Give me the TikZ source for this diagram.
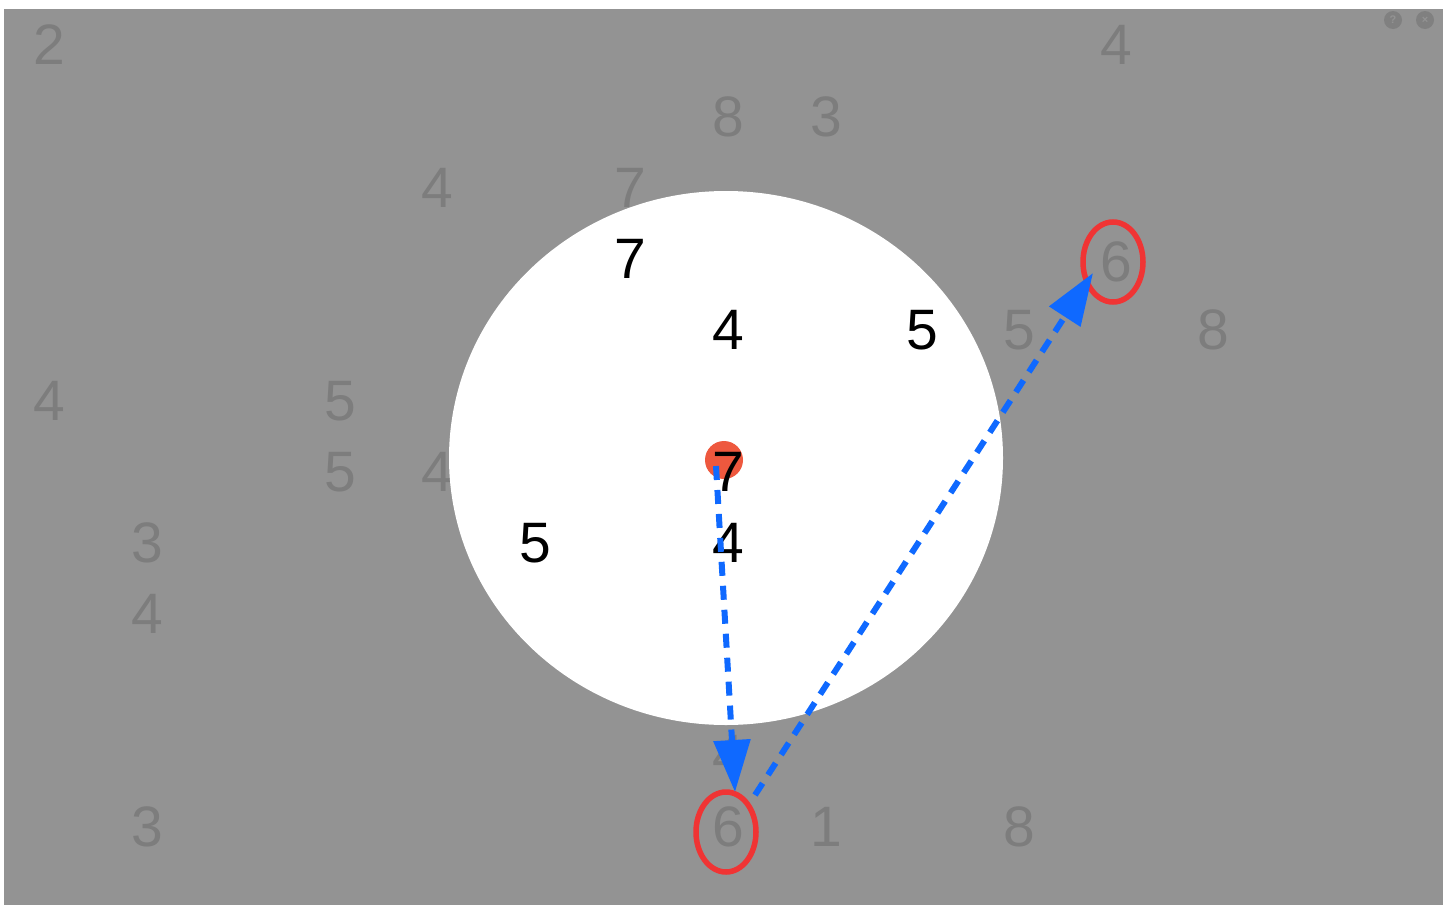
\documentclass[tikz,border=0pt]{standalone}
\usepackage{fontspec}
\setmainfont{Liberation Sans}
\usetikzlibrary{arrows.meta,shapes.geometric}
\definecolor{bg}{RGB}{147,147,147}
\definecolor{dimtext}{RGB}{125,125,125}
\definecolor{ringred}{RGB}{240,52,52}
\definecolor{dotred}{RGB}{238,88,62}
\definecolor{arrowblue}{RGB}{15,105,255}
\definecolor{icongray}{RGB}{128,128,128}
\tikzset{
  dimnum/.style={text=dimtext, inner sep=0pt, font=\fontsize{57}{60}\selectfont},
  litnum/.style={text=black, inner sep=0pt, font=\fontsize{57}{60}\selectfont},
  ring/.style={draw=ringred, line width=5.5pt, ellipse},
  jump/.style={draw=arrowblue, line width=6pt, dash pattern=on 14pt off 10pt, -{Triangle[length=52pt,width=36pt,fill=arrowblue]}},
}
\begin{document}
\begin{tikzpicture}[x=1pt,y=-1pt]
\useasboundingbox (0,0) rectangle (1449,905);
\fill[white] (0,0) rectangle (1449,905);
\fill[bg] (4,9) rectangle (1443,905);
% window icons
\fill[icongray] (1393,20) circle (9);
\node[text=bg, inner sep=0pt, font=\fontsize{11}{11}\selectfont\bfseries] (help) at (1393,20) {?};
\fill[icongray] (1425,20) circle (9);
\node[text=bg, inner sep=0pt, font=\fontsize{11}{11}\selectfont\bfseries] (close) at (1425,20) {×};
% dim digits
\node[dimnum] (g1) at (49,45) {2};
\node[dimnum] (g2) at (1116,45) {4};
\node[dimnum] (g3) at (728,117) {8};
\node[dimnum] (g4) at (826,117) {3};
\node[dimnum] (g5) at (437,188) {4};
\node[dimnum] (g6) at (630,188) {7};
\node[dimnum] (sixtop) at (1116,262) {6};
\node[dimnum] (g8) at (1019,330) {5};
\node[dimnum] (g9) at (1213,330) {8};
\node[dimnum] (g10) at (49,401) {4};
\node[dimnum] (g11) at (340,401) {5};
\node[dimnum] (g12) at (340,472) {5};
\node[dimnum] (g13) at (437,472) {4};
\node[dimnum] (g14) at (147,543) {3};
\node[dimnum] (g15) at (147,614) {4};
\node[dimnum] (g16) at (728,755) {4};
\node[dimnum] (g17) at (147,827) {3};
\node[dimnum] (sixbot) at (728,827) {6};
\node[dimnum] (g19) at (826,827) {1};
\node[dimnum] (g20) at (1019,827) {8};
% spotlight
\fill[white] (726,458) ellipse [x radius=277, y radius=267];
% lit digits
\node[litnum] (b1) at (630,259) {7};
\node[litnum] (b2) at (728,330) {4};
\node[litnum] (b3) at (922,330) {5};
\fill[dotred] (724,460) circle (19);
\node[litnum] (b4) at (728,472) {7};
\node[litnum] (b5) at (535,543) {5};
\node[litnum] (b6) at (728,543) {4};
% rings
\node[ring, minimum width=60pt, minimum height=80pt] (ringtop) at (1113,262) {};
\node[ring, minimum width=60pt, minimum height=80pt] (ringbot) at (726,832) {};
% arrows
\coordinate (s1) at (716,466);
\coordinate (t1) at (735,792);
\coordinate (s2) at (755,795);
\coordinate (t2) at (1093,273);
\draw[jump] (s1) -- (t1);
\draw[jump] (s2) -- (t2);
\end{tikzpicture}
\end{document}
